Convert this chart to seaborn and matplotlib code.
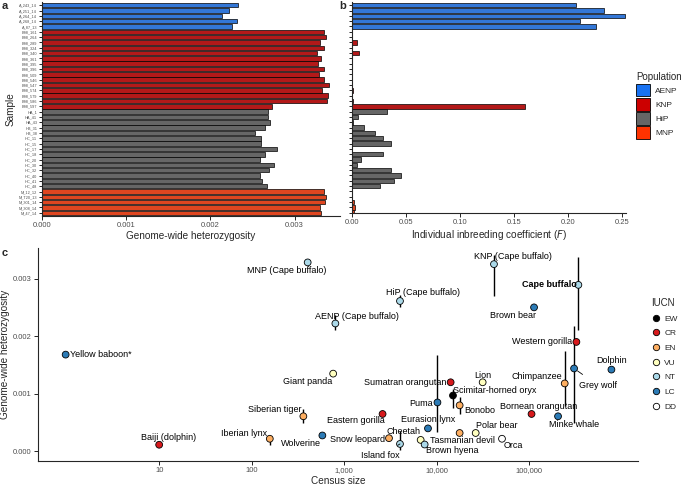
import pandas as pd
import seaborn as sns
import matplotlib.pyplot as plt
from matplotlib.patches import Patch
from matplotlib.lines import Line2D

# ---- panel a / b data ----
samples = ['A_243_14', 'A_251_14', 'A_264_14', 'A_268_14', 'A_87_13',
           'B98_161', 'B98_264', 'B98_289', 'B98_324', 'B98_340', 'B98_361', 'B98_395',
           'B98_396', 'B98_509', 'B98_546', 'B98_547', 'B98_574', 'B98_579', 'B98_586', 'B98_597',
           'HA_1', 'HA_41', 'HA_43', 'HB_31', 'HB_38', 'HC_11', 'HC_15', 'HC_17', 'HC_18',
           'HC_20', 'HC_30', 'HC_32', 'HC_40', 'HC_41', 'HC_48',
           'M_12_12', 'M_T20_13', 'M_301_14', 'M_308_14', 'M_47_14']
population = ['AENP', 'AENP', 'AENP', 'AENP', 'AENP',
              'KNP', 'KNP', 'KNP', 'KNP', 'KNP', 'KNP', 'KNP', 'KNP', 'KNP', 'KNP',
              'KNP', 'KNP', 'KNP', 'KNP', 'KNP',
              'HiP', 'HiP', 'HiP', 'HiP', 'HiP', 'HiP', 'HiP', 'HiP', 'HiP', 'HiP',
              'HiP', 'HiP', 'HiP', 'HiP', 'HiP',
              'MNP', 'MNP', 'MNP', 'MNP', 'MNP']
heterozygosity = [0.002334, 0.002218, 0.002143, 0.002322, 0.002262,
                  0.003352, 0.003376, 0.003304, 0.003345, 0.003262, 0.003309, 0.003274,
                  0.003352, 0.003293, 0.003345, 0.003411, 0.003321, 0.003392, 0.003388, 0.002733,
                  0.002679, 0.002679, 0.002714, 0.002647, 0.002528, 0.002607, 0.002603,
                  0.002786, 0.002650, 0.002584, 0.002754, 0.002691, 0.002595, 0.002615, 0.002667,
                  0.003352, 0.003376, 0.003360, 0.003304, 0.003309]
inbreeding = [0.208, 0.234, 0.253, 0.211, 0.226,
              0.0003, 0.0003, 0.005, 0.0004, 0.0065, 0.0003, 0.0003,
              0.0003, 0.0003, 0.0003, 0.0003, 0.0008, 0.0003, 0.0010, 0.160,
              0.032, 0.0056, 0.0005, 0.011, 0.021, 0.029, 0.036, 0.0003,
              0.029, 0.0084, 0.0047, 0.036, 0.0456, 0.039, 0.0264,
              0.0003, 0.0003, 0.0015, 0.0028, 0.0018]
pop_order = ['AENP', 'KNP', 'HiP', 'MNP']
pop_colors = ['#1872F2', '#CC0000', '#666666', '#FF3300']

# ---- panel c data ----
species = ['MNP (Cape buffalo)', 'AENP (Cape buffalo)', 'HiP (Cape buffalo)', 'KNP (Cape buffalo)',
           'Cape buffalo', 'Yellow baboon*', 'Giant panda', 'Siberian tiger', 'Baiji (dolphin)',
           'Iberian lynx', 'Wolverine', 'Brown bear', 'Western gorilla', 'Grey wolf', 'Chimpanzee',
           'Dolphin', 'Sumatran orangutan', 'Lion', 'Scimitar-horned oryx', 'Puma', 'Bonobo',
           'Bornean orangutan', 'Minke whale', 'Eastern gorilla', 'Eurasion lynx', 'Polar bear',
           'Tasmanian devil', 'Orca', 'Snow leopard', 'Cheetah', 'Island fox', 'Brown hyena']
census = [403, 803, 4010, 41600,
          340000, 0.975, 760, 362, 10,
          157, 581, 112800, 323600, 305600, 242000,
          774000, 14150, 31400, 15000, 10190, 17700,
          106000, 205000, 2600, 8050, 26400,
          17700, 50800, 3050, 6710, 4010, 7410]
het = [0.00328, 0.00222, 0.00261, 0.00325,
       0.00289, 0.00168, 0.00135, 0.00061, 0.000116,
       0.00022, 0.000277, 0.0025, 0.0019, 0.00144, 0.00118,
       0.00142, 0.0012, 0.0012, 0.00097, 0.00085, 0.0008,
       0.00065, 0.00061, 0.00065, 0.0004, 0.00032,
       0.00032, 0.00022, 0.00023, 0.0002, 0.00013, 0.00012]
iucn = ['NT', 'NT', 'NT', 'NT',
        'NT', 'LC', 'VU', 'EN', 'CR',
        'EN', 'LC', 'LC', 'CR', 'LC', 'EN',
        'LC', 'CR', 'VU', 'EW', 'LC', 'EN',
        'CR', 'LC', 'CR', 'LC', 'VU',
        'EN', 'DD', 'EN', 'VU', 'NT', 'NT']
iucn_order = ['EW', 'CR', 'EN', 'VU', 'NT', 'LC', 'DD']
iucn_colors = ['#000000', '#D7191C', '#FDAE61', '#FFFFBF', '#ABD9E9', '#2C7BB6', '#FFFFFF']

# heterozygosity ranges drawn as vertical lines
range_species = ['AENP (Cape buffalo)', 'HiP (Cape buffalo)', 'KNP (Cape buffalo)', 'Cape buffalo',
                 'Siberian tiger', 'Iberian lynx', 'Grey wolf', 'Chimpanzee',
                 'Scimitar-horned oryx', 'Puma', 'Bonobo', 'Island fox']
range_lo = [0.00210, 0.00250, 0.00269, 0.00211, 0.00049, 0.00012, 0.00049, 0.00078,
            0.00076, 0.00033, 0.00065, 0.00003]
range_hi = [0.00236, 0.00272, 0.00340, 0.00337, 0.00074, 0.00026, 0.00218, 0.00175,
            0.00109, 0.00168, 0.00094, 0.00035]

# label placement (pixel offsets from point, horizontal alignment)
label_pos = {
    'MNP (Cape buffalo)': (-21, -8, 'center'), 'AENP (Cape buffalo)': (22, 7, 'center'),
    'HiP (Cape buffalo)': (23, 9, 'center'), 'KNP (Cape buffalo)': (19, 8, 'center'),
    'Cape buffalo': (-2, 0, 'right'), 'Yellow baboon*': (4, 0, 'left'),
    'Giant panda': (-26, -8, 'center'), 'Siberian tiger': (-29, 7, 'center'),
    'Baiji (dolphin)': (9, 7, 'center'), 'Iberian lynx': (-26, 5, 'center'),
    'Wolverine': (-21, -8, 'center'), 'Brown bear': (-21, -8, 'center'),
    'Western gorilla': (-4, 0, 'right'), 'Grey wolf': (24, -17, 'center'),
    'Chimpanzee': (-28, 7, 'center'), 'Dolphin': (0, 9, 'center'),
    'Sumatran orangutan': (-4, 0, 'right'), 'Lion': (0, 7, 'center'),
    'Scimitar-horned oryx': (42, 5, 'center'), 'Puma': (-5, -1, 'right'),
    'Bonobo': (20, -5, 'center'), 'Bornean orangutan': (7, 7, 'center'),
    'Minke whale': (16, -8, 'center'), 'Eastern gorilla': (-27, -7, 'center'),
    'Eurasion lynx': (0, 9, 'center'), 'Polar bear': (21, 7, 'center'),
    'Tasmanian devil': (3, -8, 'center'), 'Orca': (11, -7, 'center'),
    'Snow leopard': (-4, -1, 'right'), 'Cheetah': (-17, 8, 'center'),
    'Island fox': (-20, -12, 'center'), 'Brown hyena': (28, -6, 'center'),
}
leader = ['Island fox', 'Grey wolf']

sns.set_theme(style='ticks')
plt.rcParams['font.family'] = ['Liberation Sans', 'DejaVu Sans']
plt.rcParams['axes.linewidth'] = 0.8

W, H = 685, 486
fig = plt.figure(figsize=(W / 100, H / 100), dpi=100)


def box(l, t, r, b):
    return [l / W, 1 - b / H, (r - l) / W, (b - t) / H]


ax_a = fig.add_axes(box(42, 2, 340, 216))
ax_b = fig.add_axes(box(352, 2, 626, 213))
ax_c = fig.add_axes(box(38, 248, 638, 461))

df_ab = pd.DataFrame({'sample': samples, 'pop': population,
                      'het': heterozygosity, 'F': inbreeding})
pal = dict(zip(pop_order, pop_colors))
tick_grey = '#4D4D4D'

for ax, col in [(ax_a, 'het'), (ax_b, 'F')]:
    sns.barplot(data=df_ab, y='sample', x=col, hue='pop', hue_order=pop_order,
                palette=pal, order=samples, dodge=False, width=0.85, errorbar=None,
                edgecolor='black', linewidth=0.5, legend=False, ax=ax)
    sns.despine(ax=ax)
    ax.tick_params(axis='both', colors='black', labelcolor=tick_grey, length=3, width=0.6)
    ax.tick_params(axis='x', labelsize=5.5, pad=1.5)

ax_a.set_xlim(0, 0.00354)
ax_a.set_ylim(39.6, -0.6)
ax_a.set_xticks([0, 0.001, 0.002, 0.003])
ax_a.set_xticklabels(['0.000', '0.001', '0.002', '0.003'])
ax_a.tick_params(axis='y', labelsize=2.8, pad=1, length=2.5)
ax_a.set_xlabel('Genome-wide heterozygosity', fontsize=7.2, labelpad=1)
ax_a.set_ylabel('Sample', fontsize=7.2, labelpad=2)

ax_b.set_xlim(0, 0.254)
ax_b.set_ylim(39.05, -0.6)
ax_b.set_xticks([0, 0.05, 0.10, 0.15, 0.20, 0.25])
ax_b.set_xticklabels(['0.00', '0.05', '0.10', '0.15', '0.20', '0.25'])
ax_b.set_yticklabels([])
ax_b.tick_params(axis='y', length=2.5)
ax_b.set_xlabel('Individual inbreeding coefficient ($\\it{F}$)', fontsize=7.2, labelpad=1)
ax_b.set_ylabel('')

# ---- panel c ----
df_c = pd.DataFrame({'species': species, 'census': census, 'het': het, 'iucn': iucn})
ax_c.set_xscale('log')
lookup = dict(zip(species, census))
ax_c.vlines([lookup[s] for s in range_species], range_lo, range_hi,
            color='black', lw=1.0, zorder=2)
sns.scatterplot(data=df_c, x='census', y='het', hue='iucn', hue_order=iucn_order,
                palette=dict(zip(iucn_order, iucn_colors)), s=24, edgecolor='black',
                linewidth=0.6, legend=False, ax=ax_c, zorder=3)
for s, x, y in zip(species, census, het):
    dx, dy, ha = label_pos[s]
    kw = {}
    if s in leader:
        kw['arrowprops'] = dict(arrowstyle='-', lw=0.6, color='black', shrinkA=4, shrinkB=3)
    ax_c.annotate(s, (x, y), xytext=(dx, dy), textcoords='offset pixels', ha=ha,
                  va='center', fontsize=6.5, color='black',
                  fontweight='bold' if s == 'Cape buffalo' else 'normal', zorder=4, **kw)

ax_c.set_xlim(0.49, 1.5e6)
ax_c.set_ylim(-0.000166, 0.00353)
ax_c.set_xticks([10, 100, 1000, 10000, 100000])
ax_c.set_xticklabels(['10', '100', '1,000', '10,000', '100,000'])
ax_c.minorticks_off()
ax_c.set_yticks([0, 0.001, 0.002, 0.003])
ax_c.set_yticklabels(['0.000', '0.001', '0.002', '0.003'])
sns.despine(ax=ax_c)
ax_c.tick_params(axis='both', colors='black', labelcolor=tick_grey, length=3, width=0.6,
                 labelsize=5.5, pad=1.5)
ax_c.set_xlabel('Census size', fontsize=7.2, labelpad=1)
ax_c.set_ylabel('Genome-wide heterozygosity', fontsize=7.2, labelpad=2)

# panel letters
for letter, x, y in [('a', 5, 6), ('b', 343, 6), ('c', 5, 253)]:
    fig.text(x / W, 1 - y / H, letter, fontsize=8, fontweight='bold', ha='center', va='center')

# legends
pop_handles = [Patch(facecolor=c, edgecolor='black', lw=0.6) for c in pop_colors]
fig.legend(pop_handles, pop_order, title='Population', loc='upper left',
           bbox_to_anchor=(636 / W, 1 - 72 / H), frameon=False, fontsize=6, title_fontsize=7,
           handlelength=1.7, handleheight=1.95, labelspacing=0.2, handletextpad=0.6,
           borderpad=0, borderaxespad=0, alignment='left')
iucn_handles = [Line2D([], [], ls='', marker='o', markersize=4.6, markerfacecolor=c,
                       markeredgecolor='black', markeredgewidth=0.6) for c in iucn_colors]
fig.legend(iucn_handles, iucn_order, title='IUCN', loc='upper left',
           bbox_to_anchor=(651 / W, 1 - 298 / H), frameon=False, fontsize=6, title_fontsize=7,
           handlelength=1.2, labelspacing=0.82, handletextpad=0.4,
           borderpad=0, borderaxespad=0, alignment='left')

fig.savefig('out.png', dpi=100)
